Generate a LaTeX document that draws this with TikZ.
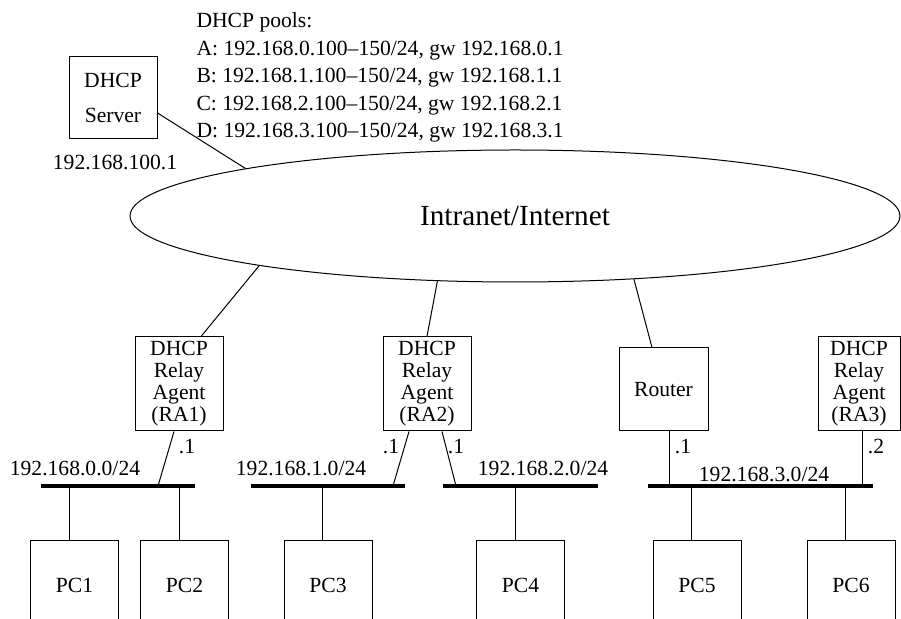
\documentclass[tikz,border=0pt]{standalone}
\usepackage{fontspec}
\setmainfont{Liberation Serif}
\usetikzlibrary{shapes.geometric}

\tikzset{
  box/.style={draw, inner sep=0pt, align=center, minimum width=44pt,
    font=\fontsize{10.8}{11}\selectfont},
  bus/.style={line width=2.2pt},
  lbl/.style={inner sep=0pt, font=\fontsize{10.8}{13}\selectfont},
}

\begin{document}
\begin{tikzpicture}[x=0.5pt, y=-0.5pt, line width=0.5pt]
    \clip (0,0) rectangle (901,619);

    % Server and pools
    \node[box, minimum height=41pt, font=\fontsize{10.8}{17.5}\selectfont] (server) at (113,98) {DHCP\\Server};
    \node[lbl] (srvip) at (115,162) {192.168.100.1};
    \node[lbl, anchor=west, align=left, font=\fontsize{10.8}{13.8}\selectfont] (pools) at (196,77.5)
        {DHCP pools:\\
         A: 192.168.0.100--150/24, gw 192.168.0.1\\
         B: 192.168.1.100--150/24, gw 192.168.1.1\\
         C: 192.168.2.100--150/24, gw 192.168.2.1\\
         D: 192.168.3.100--150/24, gw 192.168.3.1};

    % Cloud
    \node[ellipse, draw, inner sep=0pt, minimum width=385pt, minimum height=66pt,
        font=\fontsize{14.6}{16}\selectfont] (net) at (515,216) {Intranet/Internet};

    % Agents and router
    \node[box, minimum height=47pt] (ra1) at (179,384) {DHCP\\Relay\\Agent\\(RA1)};
    \node[box, minimum height=47pt] (ra2) at (427,384) {DHCP\\Relay\\Agent\\(RA2)};
    \node[box, minimum width=44.5pt, minimum height=41.5pt] (router) at (663.5,389.5) {Router};
    \node[box, minimum width=41pt, minimum height=47pt] (ra3) at (859,384) {DHCP\\Relay\\Agent\\(RA3)};

    \draw ([yshift=-7.5pt]server.east) -- (net.170.9);
    \draw ([xshift=11pt]ra1.north) -- (net.191.6);
    \draw (ra2.north) -- (net.220.6);
    \draw ([xshift=-5.75pt]router.north) -- (net.332.3);

    % Subnets
    \coordinate (b1l) at (41,486);  \coordinate (b1r) at (195,486);
    \coordinate (b2l) at (251,486); \coordinate (b2r) at (405,486);
    \coordinate (b3l) at (443,486); \coordinate (b3r) at (598,486);
    \coordinate (b4l) at (648,486); \coordinate (b4r) at (873,486);
    \foreach \n in {1,2,3,4}
        \draw[bus] (b\n l) -- (b\n r);

    \node[lbl] (net0) at (75,468) {192.168.0.0/24};
    \node[lbl] (net1) at (301,468) {192.168.1.0/24};
    \node[lbl] (net2) at (543,468) {192.168.2.0/24};
    \node[lbl] (net3) at (764,474) {192.168.3.0/24};

    \coordinate (t1) at (158,486);
    \coordinate (t2) at (393,486);
    \coordinate (t3) at (456,486);
    \draw ([xshift=-2.5pt]ra1.south) -- (t1);
    \draw ([xshift=-9pt]ra2.south) -- (t2);
    \draw ([xshift=7.5pt]ra2.south) -- (t3);
    \draw ([xshift=2.75pt]router.south) -- ([xshift=2.75pt]router.south |- b4l);
    \draw ([xshift=1.5pt]ra3.south) -- ([xshift=1.5pt]ra3.south |- b4l);

    \node[lbl] (ip1) at (187,447) {.1};
    \node[lbl] (ip2) at (391,447) {.1};
    \node[lbl] (ip3) at (456,447) {.1};
    \node[lbl] (ip4) at (683,447) {.1};
    \node[lbl] (ip5) at (876,447) {.2};

    % PCs
    \node[box, minimum height=44pt] (pc1) at (74.5,585) {PC1};
    \node[box, minimum height=44pt] (pc2) at (184.5,585) {PC2};
    \node[box, minimum height=44pt] (pc3) at (328,585) {PC3};
    \node[box, minimum height=44pt] (pc4) at (520.5,585) {PC4};
    \node[box, minimum height=44pt] (pc5) at (697,585) {PC5};
    \node[box, minimum height=44pt] (pc6) at (851,585) {PC6};
    \foreach \p/\b in {pc1/b1l, pc2/b1l, pc3/b2l, pc4/b3l, pc5/b4l, pc6/b4l}
        \draw ([xshift=-2.75pt]\p.north) -- ([xshift=-2.75pt]\p.north |- \b);
\end{tikzpicture}
\end{document}
